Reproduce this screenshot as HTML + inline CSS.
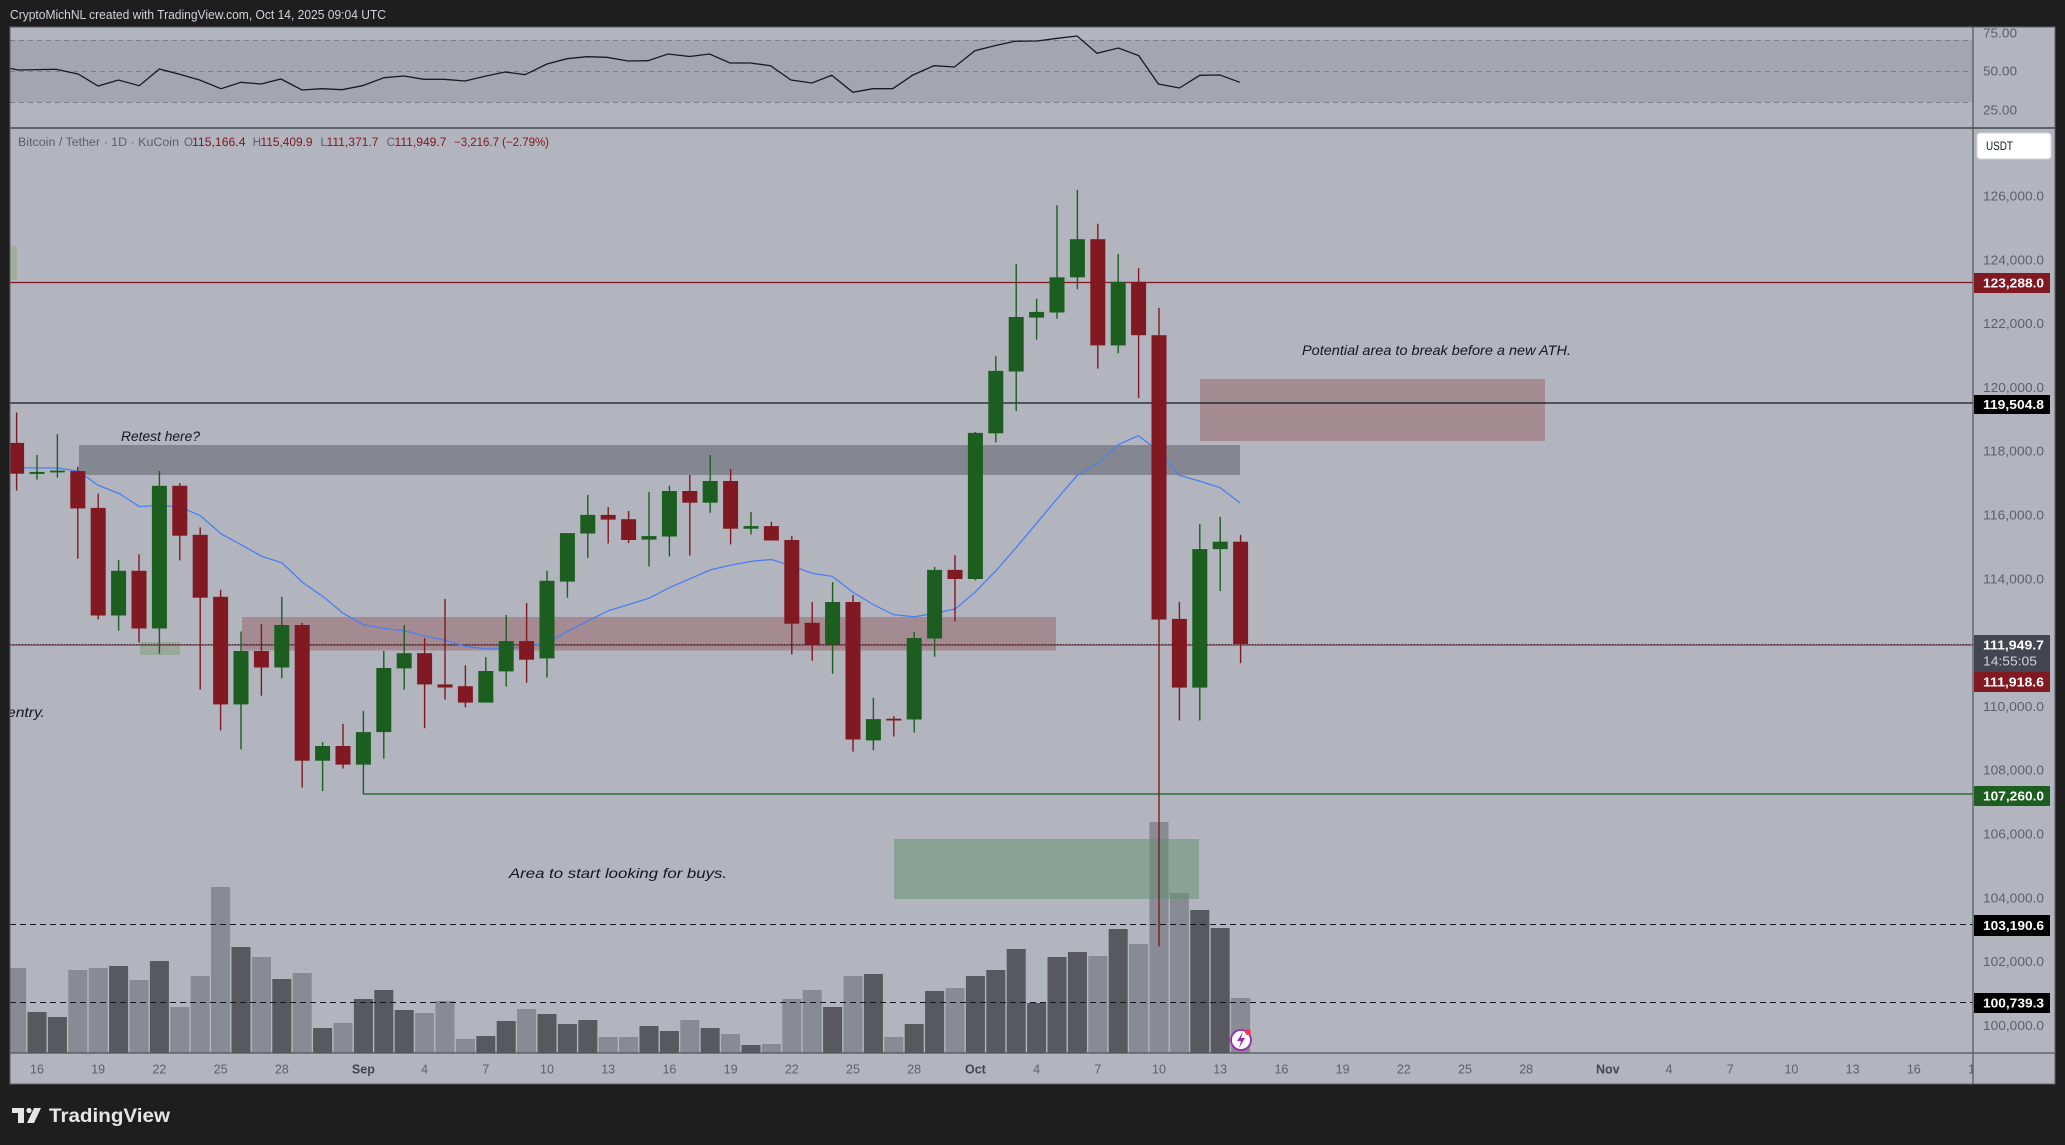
<!DOCTYPE html>
<html><head><meta charset="utf-8"><style>
html,body{margin:0;padding:0;background:#1e1e1e;}
svg{display:block;}
text{font-family:"Liberation Sans",sans-serif;}
</style></head><body>
<svg width="2065" height="1145" viewBox="0 0 2065 1145" xmlns="http://www.w3.org/2000/svg">
<defs>
<clipPath id="cm"><rect x="10" y="128" width="1963" height="925"/></clipPath>
<clipPath id="cr"><rect x="10" y="27" width="1963" height="101"/></clipPath>
<clipPath id="ct"><rect x="10" y="1053" width="1963" height="31"/></clipPath>
<clipPath id="ca"><rect x="1973" y="27" width="82" height="1057"/></clipPath>
</defs>
<rect width="2065" height="1145" fill="#1e1e1e"/>
<text x="10" y="19" font-size="12.5" fill="#d1d4dc" textLength="376" lengthAdjust="spacingAndGlyphs">CryptoMichNL created with TradingView.com, Oct 14, 2025 09:04 UTC</text>

<rect x="10" y="27" width="2045" height="1057" fill="#b2b5be"/>

<!-- RSI pane -->
<g clip-path="url(#cr)">
<rect x="10" y="40" width="1963" height="62" fill="#a3a6af"/>
<g stroke="#7d808a" stroke-width="1" stroke-dasharray="5,4">
<line x1="10" y1="40.5" x2="1973" y2="40.5"/>
<line x1="10" y1="71.5" x2="1973" y2="71.5"/>
<line x1="10" y1="102.5" x2="1973" y2="102.5"/>
</g>
<polyline fill="none" stroke="#1a1a1e" stroke-width="1.3" points="10,68.3 17.9,70 37,69.6 55.8,69.3 78.1,74 98.2,86 118.3,80 139.3,85.7 159.4,69 178.6,74 199.6,80 221,88.7 241,82.3 261,84 281,79 302,90 322,88.7 342,89.7 362.5,85.7 384,77.7 404,76 424,79.3 444,79.3 465,81 485,76.3 505,72 525,74.7 547,64 567,58.7 587,56.7 607,57.3 628,61 648,60.7 668,54 689.5,56.5 709.6,54 730,63 750.3,63 770.6,65.7 791,80 812,83 831.7,75.3 852.8,92.3 873,88.7 892.7,88.7 913,75 934,65.7 954.5,67 974.9,50.7 994.5,45.7 1014.8,41.3 1037,41 1057.4,38.3 1077,36 1097,53.3 1118.4,48 1138.8,55.7 1158.4,84 1179.4,88 1199.8,75.3 1220,75 1239.8,82.3"/>
</g>

<!-- main pane -->
<g clip-path="url(#cm)">
<!-- volume -->
<g fill="#888a94">
<rect x="10" y="968" width="16.1" height="85"/>
<rect x="68.3" y="970" width="19" height="83"/>
<rect x="88.7" y="968" width="19" height="85"/>
<rect x="129.5" y="980" width="19" height="73"/>
<rect x="170.3" y="1007" width="19" height="46"/>
<rect x="190.7" y="976" width="19" height="77"/>
<rect x="211.1" y="887" width="19" height="166"/>
<rect x="251.9" y="957" width="19" height="96"/>
<rect x="292.7" y="973" width="19" height="80"/>
<rect x="333.5" y="1023" width="19" height="30"/>
<rect x="415.1" y="1013" width="19" height="40"/>
<rect x="435.5" y="1001" width="19" height="52"/>
<rect x="455.9" y="1039" width="19" height="14"/>
<rect x="517.1" y="1009" width="19" height="44"/>
<rect x="598.7" y="1037" width="19" height="16"/>
<rect x="619.1" y="1037" width="19" height="16"/>
<rect x="680.3" y="1020" width="19" height="33"/>
<rect x="721.1" y="1034" width="19" height="19"/>
<rect x="761.9" y="1044" width="19" height="9"/>
<rect x="782.3" y="999" width="19" height="54"/>
<rect x="802.7" y="990" width="19" height="63"/>
<rect x="843.5" y="976" width="19" height="77"/>
<rect x="884.3" y="1037" width="19" height="16"/>
<rect x="945.5" y="988" width="19" height="65"/>
<rect x="1088.3" y="956" width="19" height="97"/>
<rect x="1129.1" y="944" width="19" height="109"/>
<rect x="1149.5" y="822" width="19" height="231"/>
<rect x="1169.9" y="893" width="19" height="160"/>
<rect x="1231.1" y="998" width="19" height="55"/>
</g>
<g fill="#58595f">
<rect x="27.5" y="1012" width="19" height="41"/>
<rect x="47.9" y="1017" width="19" height="36"/>
<rect x="109.1" y="966" width="19" height="87"/>
<rect x="149.9" y="961" width="19" height="92"/>
<rect x="231.5" y="947" width="19" height="106"/>
<rect x="272.3" y="979" width="19" height="74"/>
<rect x="313.1" y="1028" width="19" height="25"/>
<rect x="353.9" y="999" width="19" height="54"/>
<rect x="374.3" y="990" width="19" height="63"/>
<rect x="394.7" y="1010" width="19" height="43"/>
<rect x="476.3" y="1036" width="19" height="17"/>
<rect x="496.7" y="1021" width="19" height="32"/>
<rect x="537.5" y="1014" width="19" height="39"/>
<rect x="557.9" y="1024" width="19" height="29"/>
<rect x="578.3" y="1020" width="19" height="33"/>
<rect x="639.5" y="1026" width="19" height="27"/>
<rect x="659.9" y="1031" width="19" height="22"/>
<rect x="700.7" y="1028" width="19" height="25"/>
<rect x="741.5" y="1045" width="19" height="8"/>
<rect x="823.1" y="1007" width="19" height="46"/>
<rect x="863.9" y="974" width="19" height="79"/>
<rect x="904.7" y="1024" width="19" height="29"/>
<rect x="925.1" y="991" width="19" height="62"/>
<rect x="965.9" y="976" width="19" height="77"/>
<rect x="986.3" y="970" width="19" height="83"/>
<rect x="1006.7" y="949" width="19" height="104"/>
<rect x="1027.1" y="1003" width="19" height="50"/>
<rect x="1047.5" y="957" width="19" height="96"/>
<rect x="1067.9" y="952" width="19" height="101"/>
<rect x="1108.7" y="929" width="19" height="124"/>
<rect x="1190.3" y="910" width="19" height="143"/>
<rect x="1210.7" y="928" width="19" height="125"/>
</g>

<!-- zones -->
<rect x="10" y="246" width="7" height="34" fill="#9fb09f"/>
<rect x="79" y="445" width="1161" height="30" fill="#84878f"/>
<rect x="242" y="617" width="814" height="33.5" fill="#a48b92"/>
<rect x="140" y="642" width="40" height="13" fill="#9aa89c"/>
<rect x="1200" y="379" width="345" height="62" fill="#a58c93"/>
<rect x="894" y="839" width="305" height="60" fill="#5f8f6c" fill-opacity="0.5"/>

<!-- horizontal lines -->
<line x1="10" y1="282.5" x2="1973" y2="282.5" stroke="#801922" stroke-width="1.2"/>
<line x1="10" y1="403" x2="1973" y2="403" stroke="#131722" stroke-width="1.3"/>
<line x1="10" y1="645" x2="1973" y2="645" stroke="#801922" stroke-width="1"/>
<line x1="10" y1="644.5" x2="1973" y2="644.5" stroke="#2a2e39" stroke-width="1" stroke-dasharray="1,2"/>
<line x1="363" y1="794" x2="1973" y2="794" stroke="#1b5e20" stroke-width="1.2"/>
<line x1="10" y1="924.5" x2="1973" y2="924.5" stroke="#131722" stroke-width="1" stroke-dasharray="6,4"/>
<line x1="10" y1="1002.5" x2="1973" y2="1002.5" stroke="#131722" stroke-width="1" stroke-dasharray="6,4"/>

<!-- MA -->
<polyline fill="none" stroke="#4f7ef0" stroke-width="1.3" points="10,467.6 37,468 57.3,468 78.3,471.1 98.3,485.4 119.3,493.6 139.3,506.6 159.3,505.3 180.3,507.1 200.3,515.7 221.3,534 241.3,544.8 261.3,556.1 282.3,563 302.3,582.1 323.3,596.8 343.3,613.3 363.3,624.6 384.3,628.5 404.3,630.7 424.3,635.9 445.3,640.2 465.3,646.3 486.3,648.9 506.5,648.6 526.7,646.7 547.3,642.8 567.3,631.5 588.3,620.7 608.3,610.7 628.3,604.6 649.3,598.1 669.3,587.7 689.3,579 710.3,569.9 730.3,565.2 751.3,561.3 771.3,559.5 791.3,565.6 812.3,573.4 832.3,576.4 853.3,592.5 873.3,604.6 893.3,614.6 914.3,616.8 934.3,613.3 955.3,609 975.3,592 995.7,571 1016.3,547.4 1036.3,523.6 1056.3,499.7 1077.3,475.3 1097.3,463.4 1118.3,444.7 1138.3,435.6 1158.3,450.9 1179.3,475.3 1199.3,481 1220.3,487.8 1240.3,503.1"/>

<!-- red candles -->
<g fill="#801922">
<rect x="15.9" y="412.5" width="1.4" height="78.1"/><rect x="9.1" y="442.9" width="15" height="30.8"/>
<rect x="77.1" y="466.7" width="1.4" height="92"/><rect x="70.3" y="471.1" width="15" height="37.3"/>
<rect x="97.5" y="493.6" width="1.4" height="125.8"/><rect x="90.7" y="507.9" width="15" height="107.6"/>
<rect x="138.3" y="554.3" width="1.4" height="88.1"/><rect x="131.5" y="570.8" width="15" height="57.7"/>
<rect x="179.1" y="483.2" width="1.4" height="77.2"/><rect x="172.3" y="485.8" width="15" height="49.9"/>
<rect x="199.5" y="527.4" width="1.4" height="162.2"/><rect x="192.7" y="534.8" width="15" height="62.9"/>
<rect x="219.9" y="589.9" width="1.4" height="140.5"/><rect x="213.1" y="596.8" width="15" height="107.6"/>
<rect x="260.7" y="624.1" width="1.4" height="71.6"/><rect x="253.9" y="651" width="15" height="16.5"/>
<rect x="301.5" y="622.8" width="1.4" height="164.8"/><rect x="294.7" y="625" width="15" height="135.7"/>
<rect x="342.3" y="723.9" width="1.4" height="44.6"/><rect x="335.5" y="746" width="15" height="18.6"/>
<rect x="423.9" y="638" width="1.4" height="90.2"/><rect x="417.1" y="653.2" width="15" height="31.2"/>
<rect x="444.3" y="599" width="1.4" height="100.6"/><rect x="437.5" y="684.4" width="15" height="3.1"/>
<rect x="464.7" y="665.3" width="1.4" height="42.1"/><rect x="457.9" y="686.2" width="15" height="16.4"/>
<rect x="525.9" y="602.9" width="1.4" height="79.8"/><rect x="519.1" y="641.1" width="15" height="18.6"/>
<rect x="607.5" y="507.1" width="1.4" height="36.4"/><rect x="600.7" y="514.9" width="15" height="4.7"/>
<rect x="627.9" y="511" width="1.4" height="32"/><rect x="621.1" y="519.2" width="15" height="20.8"/>
<rect x="689.1" y="475" width="1.4" height="80.6"/><rect x="682.3" y="491" width="15" height="11.7"/>
<rect x="729.9" y="468.9" width="1.4" height="75.5"/><rect x="723.1" y="481" width="15" height="47.7"/>
<rect x="770.7" y="521.8" width="1.4" height="18.7"/><rect x="763.9" y="526.1" width="15" height="14.4"/>
<rect x="791.1" y="536.1" width="1.4" height="118.4"/><rect x="784.3" y="540" width="15" height="83.7"/>
<rect x="811.5" y="602" width="1.4" height="58.6"/><rect x="804.7" y="622.8" width="15" height="21.7"/>
<rect x="852.3" y="595.1" width="1.4" height="156.5"/><rect x="845.5" y="602" width="15" height="137.5"/>
<rect x="893.1" y="716.1" width="1.4" height="20.4"/><rect x="886.3" y="718.7" width="15" height="1.8"/>
<rect x="954.3" y="555.2" width="1.4" height="66.3"/><rect x="947.5" y="569.9" width="15" height="9.1"/>
<rect x="1097.1" y="223.9" width="1.4" height="144.7"/><rect x="1090.3" y="239.2" width="15" height="106.2"/>
<rect x="1137.9" y="268.2" width="1.4" height="129.9"/><rect x="1131.1" y="281.8" width="15" height="53.4"/>
<rect x="1158.3" y="307.9" width="1.4" height="638.5"/><rect x="1151.5" y="335.2" width="15" height="284.3"/>
<rect x="1178.7" y="601.9" width="1.4" height="118.6"/><rect x="1171.9" y="618.9" width="15" height="68.7"/>
<rect x="1239.9" y="534.9" width="1.4" height="128.3"/><rect x="1233.1" y="541.7" width="15" height="102.3"/>
</g>
<!-- green candles -->
<g fill="#1b5e20">
<rect x="36.3" y="455" width="1.4" height="24.7"/><rect x="29.5" y="471.9" width="15" height="2"/>
<rect x="56.7" y="434.2" width="1.4" height="43.4"/><rect x="49.9" y="470.6" width="15" height="1.8"/>
<rect x="117.9" y="560" width="1.4" height="70.7"/><rect x="111.1" y="570.8" width="15" height="44.7"/>
<rect x="158.7" y="471.1" width="1.4" height="182.5"/><rect x="151.9" y="485.8" width="15" height="142.7"/>
<rect x="240.3" y="631.5" width="1.4" height="118"/><rect x="233.5" y="651" width="15" height="53.4"/>
<rect x="281.1" y="596.8" width="1.4" height="81.6"/><rect x="274.3" y="625" width="15" height="42.5"/>
<rect x="321.9" y="742.1" width="1.4" height="49"/><rect x="315.1" y="746" width="15" height="14.7"/>
<rect x="362.7" y="710.9" width="1.4" height="83.1"/><rect x="355.9" y="732.1" width="15" height="32.5"/>
<rect x="383.1" y="651" width="1.4" height="107.6"/><rect x="376.3" y="668" width="15" height="64.1"/>
<rect x="403.5" y="625" width="1.4" height="64.6"/><rect x="396.7" y="653.2" width="15" height="15.2"/>
<rect x="485.1" y="657.1" width="1.4" height="45.5"/><rect x="478.3" y="671" width="15" height="31.6"/>
<rect x="505.5" y="615" width="1.4" height="71.6"/><rect x="498.7" y="641.1" width="15" height="30.3"/>
<rect x="546.3" y="570.8" width="1.4" height="106.7"/><rect x="539.5" y="580.8" width="15" height="77.6"/>
<rect x="566.7" y="533.1" width="1.4" height="64.6"/><rect x="559.9" y="533.1" width="15" height="48.5"/>
<rect x="587.1" y="494.9" width="1.4" height="62.9"/><rect x="580.3" y="514.9" width="15" height="18.6"/>
<rect x="648.3" y="491.9" width="1.4" height="74.6"/><rect x="641.5" y="536.1" width="15" height="3.5"/>
<rect x="668.7" y="485.8" width="1.4" height="70.7"/><rect x="661.9" y="491" width="15" height="45.5"/>
<rect x="709.5" y="455" width="1.4" height="57.7"/><rect x="702.7" y="481" width="15" height="21.7"/>
<rect x="750.3" y="511.8" width="1.4" height="22.6"/><rect x="743.5" y="526.1" width="15" height="2.6"/>
<rect x="831.9" y="582.1" width="1.4" height="91.5"/><rect x="825.1" y="602" width="15" height="42.5"/>
<rect x="872.7" y="697.9" width="1.4" height="52.4"/><rect x="865.9" y="719.1" width="15" height="21.3"/>
<rect x="913.5" y="632" width="1.4" height="100.6"/><rect x="906.7" y="638" width="15" height="81.5"/>
<rect x="933.9" y="566.9" width="1.4" height="89.8"/><rect x="927.1" y="569.9" width="15" height="68.6"/>
<rect x="974.7" y="432" width="1.4" height="148.3"/><rect x="967.9" y="432.9" width="15" height="146.1"/>
<rect x="995.1" y="356.2" width="1.4" height="86.2"/><rect x="988.3" y="370.9" width="15" height="62.4"/>
<rect x="1015.5" y="264.2" width="1.4" height="147"/><rect x="1008.7" y="317" width="15" height="54.5"/>
<rect x="1035.9" y="298.8" width="1.4" height="40.9"/><rect x="1029.1" y="311.9" width="15" height="5.7"/>
<rect x="1056.3" y="205.2" width="1.4" height="113.5"/><rect x="1049.5" y="277.3" width="15" height="35.2"/>
<rect x="1076.7" y="189.9" width="1.4" height="99.3"/><rect x="1069.9" y="239.2" width="15" height="38.1"/>
<rect x="1117.5" y="254" width="1.4" height="99.3"/><rect x="1110.7" y="281.8" width="15" height="63.6"/>
<rect x="1199.1" y="524.1" width="1.4" height="196.4"/><rect x="1192.3" y="549.1" width="15" height="138.5"/>
<rect x="1219.5" y="516.8" width="1.4" height="74.3"/><rect x="1212.7" y="541.7" width="15" height="7.4"/>
</g>

<!-- annotations -->
<g font-style="italic" font-size="14" fill="#131722">
<text x="121" y="441" textLength="79" lengthAdjust="spacingAndGlyphs">Retest here?</text>
<text x="7" y="717" textLength="38" lengthAdjust="spacingAndGlyphs">entry.</text>
<text x="509" y="878" textLength="218" lengthAdjust="spacingAndGlyphs">Area to start looking for buys.</text>
<text x="1302" y="355" textLength="269" lengthAdjust="spacingAndGlyphs">Potential area to break before a new ATH.</text>
</g>

<!-- legend -->
<g font-size="11.5">
<text x="18" y="146" fill="#5d606b" textLength="161" lengthAdjust="spacingAndGlyphs">Bitcoin / Tether · 1D · KuCoin</text>
<text x="184" y="146" fill="#5d606b">O</text>
<text x="192" y="146" fill="#801922" textLength="53.5" lengthAdjust="spacingAndGlyphs">115,166.4</text>
<text x="252.7" y="146" fill="#5d606b">H</text>
<text x="260.5" y="146" fill="#801922" textLength="52" lengthAdjust="spacingAndGlyphs">115,409.9</text>
<text x="320.5" y="146" fill="#5d606b">L</text>
<text x="326.5" y="146" fill="#801922" textLength="52" lengthAdjust="spacingAndGlyphs">111,371.7</text>
<text x="386.6" y="146" fill="#5d606b">C</text>
<text x="394.5" y="146" fill="#801922" textLength="52" lengthAdjust="spacingAndGlyphs">111,949.7</text>
<text x="454" y="146" fill="#801922" textLength="95" lengthAdjust="spacingAndGlyphs">−3,216.7 (−2.79%)</text>
</g>

<!-- lightning icon -->
<circle cx="1241" cy="1040" r="10" fill="#ffffff" stroke="#9c27b0" stroke-width="1.8"/>
<path d="M1243,1032 L1237,1041 L1241,1041 L1239,1048 L1245,1038 L1241,1038 Z" fill="#9c27b0"/>
<circle cx="1248" cy="1032" r="3" fill="#f23645"/>
</g>

<!-- frame lines -->
<line x1="10" y1="128" x2="2055" y2="128" stroke="#434651" stroke-width="1.5"/>
<line x1="10" y1="1053" x2="2055" y2="1053" stroke="#50535e" stroke-width="1.2"/>
<line x1="1973" y1="27" x2="1973" y2="1084" stroke="#50535e" stroke-width="1.2"/>
<rect x="10" y="27" width="2045" height="1057" fill="none" stroke="#5d606b" stroke-width="1"/>

<!-- RSI axis -->
<g clip-path="url(#ca)" font-size="12.5" fill="#5d606b">
<text x="1983" y="37.5" textLength="34" lengthAdjust="spacingAndGlyphs">75.00</text>
<text x="1983" y="75.5" textLength="34" lengthAdjust="spacingAndGlyphs">50.00</text>
<text x="1983" y="114.5" textLength="34" lengthAdjust="spacingAndGlyphs">25.00</text>
</g>

<!-- price axis -->
<rect x="1977" y="133" width="74" height="26" rx="3" fill="#ffffff" stroke="#d1d4dc"/>
<text x="1986" y="150" font-size="11.5" fill="#131722" textLength="27" lengthAdjust="spacingAndGlyphs">USDT</text>
<g font-size="12.5" fill="#5d606b">
<text x="1983" y="200.5" textLength="61" lengthAdjust="spacingAndGlyphs">126,000.0</text>
<text x="1983" y="264.3" textLength="61" lengthAdjust="spacingAndGlyphs">124,000.0</text>
<text x="1983" y="328.1" textLength="61" lengthAdjust="spacingAndGlyphs">122,000.0</text>
<text x="1983" y="391.9" textLength="61" lengthAdjust="spacingAndGlyphs">120,000.0</text>
<text x="1983" y="455.7" textLength="61" lengthAdjust="spacingAndGlyphs">118,000.0</text>
<text x="1983" y="519.5" textLength="61" lengthAdjust="spacingAndGlyphs">116,000.0</text>
<text x="1983" y="583.3" textLength="61" lengthAdjust="spacingAndGlyphs">114,000.0</text>
<text x="1983" y="710.9" textLength="61" lengthAdjust="spacingAndGlyphs">110,000.0</text>
<text x="1983" y="774.7" textLength="61" lengthAdjust="spacingAndGlyphs">108,000.0</text>
<text x="1983" y="838.5" textLength="61" lengthAdjust="spacingAndGlyphs">106,000.0</text>
<text x="1983" y="902.3" textLength="61" lengthAdjust="spacingAndGlyphs">104,000.0</text>
<text x="1983" y="966.1" textLength="61" lengthAdjust="spacingAndGlyphs">102,000.0</text>
<text x="1983" y="1029.9" textLength="61" lengthAdjust="spacingAndGlyphs">100,000.0</text>
</g>
<rect x="1974" y="273" width="76" height="20" fill="#801922"/>
<rect x="1974" y="395" width="76" height="19" fill="#000000"/>
<rect x="1974" y="635" width="76" height="37" fill="#434651"/>
<rect x="1974" y="672" width="76" height="20" fill="#801922"/>
<rect x="1974" y="786" width="76" height="20" fill="#1b5e20"/>
<rect x="1974" y="915" width="76" height="21" fill="#000000"/>
<rect x="1974" y="993" width="76" height="20" fill="#000000"/>
<g font-size="12.5" font-weight="bold" fill="#ffffff">
<text x="1983" y="287.5" textLength="61" lengthAdjust="spacingAndGlyphs">123,288.0</text>
<text x="1983" y="409" textLength="61" lengthAdjust="spacingAndGlyphs">119,504.8</text>
<text x="1983" y="649.5" textLength="61" lengthAdjust="spacingAndGlyphs">111,949.7</text>
<text x="1983" y="686.5" textLength="61" lengthAdjust="spacingAndGlyphs">111,918.6</text>
<text x="1983" y="800.5" textLength="61" lengthAdjust="spacingAndGlyphs">107,260.0</text>
<text x="1983" y="930" textLength="61" lengthAdjust="spacingAndGlyphs">103,190.6</text>
<text x="1983" y="1007.5" textLength="61" lengthAdjust="spacingAndGlyphs">100,739.3</text>
</g>
<text x="1983" y="665.5" font-size="12.5" fill="#d1d4dc" textLength="54" lengthAdjust="spacingAndGlyphs">14:55:05</text>

<!-- time axis -->
<g clip-path="url(#ct)" font-size="12.5" fill="#5d606b" text-anchor="middle">
<text x="37" y="1073.5">16</text>
<text x="98.2" y="1073.5">19</text>
<text x="159.4" y="1073.5">22</text>
<text x="220.6" y="1073.5">25</text>
<text x="281.8" y="1073.5">28</text>
<text x="363.4" y="1073.5" font-weight="bold" fill="#434651">Sep</text>
<text x="424.6" y="1073.5">4</text>
<text x="485.8" y="1073.5">7</text>
<text x="547" y="1073.5">10</text>
<text x="608.2" y="1073.5">13</text>
<text x="669.4" y="1073.5">16</text>
<text x="730.6" y="1073.5">19</text>
<text x="791.8" y="1073.5">22</text>
<text x="853" y="1073.5">25</text>
<text x="914.2" y="1073.5">28</text>
<text x="975.4" y="1073.5" font-weight="bold" fill="#434651">Oct</text>
<text x="1036.6" y="1073.5">4</text>
<text x="1097.8" y="1073.5">7</text>
<text x="1159" y="1073.5">10</text>
<text x="1220.2" y="1073.5">13</text>
<text x="1281.4" y="1073.5">16</text>
<text x="1342.6" y="1073.5">19</text>
<text x="1403.8" y="1073.5">22</text>
<text x="1465" y="1073.5">25</text>
<text x="1526.2" y="1073.5">28</text>
<text x="1607.8" y="1073.5" font-weight="bold" fill="#434651">Nov</text>
<text x="1669" y="1073.5">4</text>
<text x="1730.2" y="1073.5">7</text>
<text x="1791.4" y="1073.5">10</text>
<text x="1852.6" y="1073.5">13</text>
<text x="1913.8" y="1073.5">16</text>
<text x="1975" y="1073.5">19</text>
</g>

<!-- footer logo -->
<g fill="#e6e6e6">
<rect x="12" y="1108" width="12" height="5"/>
<rect x="18" y="1108" width="6" height="15"/>
<circle cx="29" cy="1110.5" r="2.6"/>
<polygon points="34,1108 41,1108 34,1123 27,1123"/>
</g>
<text x="49" y="1122" font-size="19" font-weight="bold" fill="#e6e6e6" textLength="121" lengthAdjust="spacingAndGlyphs">TradingView</text>
</svg>
</body></html>
